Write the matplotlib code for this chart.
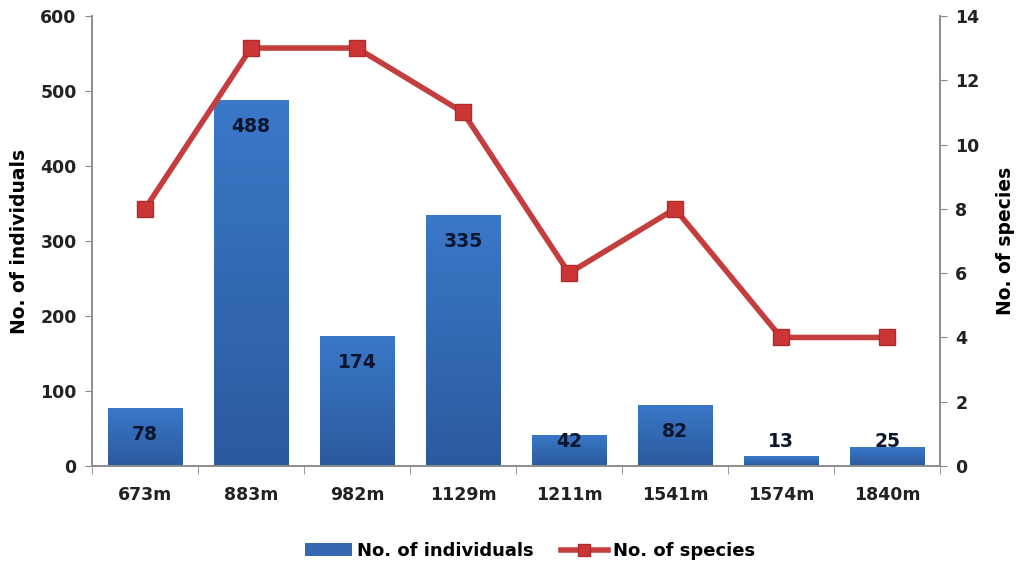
import numpy as np
import matplotlib
matplotlib.use("Agg")
import matplotlib.pyplot as plt
from matplotlib.lines import Line2D
from matplotlib.patches import Patch
from matplotlib.colors import LinearSegmentedColormap

# Data
sites = ["673m", "883m", "982m", "1129m", "1211m", "1541m", "1574m", "1840m"]
individuals = [78, 488, 174, 335, 42, 82, 13, 25]
species = [8, 13, 13, 11, 6, 8, 4, 4]

plt.rcParams["font.family"] = ["DejaVu Sans"]
plt.rcParams["font.weight"] = "bold"

fig = plt.figure(figsize=(10.19, 5.67), dpi=100)
ax = fig.add_axes([0.0903, 0.178, 0.8322, 0.794])
ax2 = ax.twinx()

x = np.arange(len(sites))
bar_w = 0.7
bars = ax.bar(x, individuals, width=bar_w, color="#3468B2", zorder=2)

# vertical gradient fill for each bar
grad = LinearSegmentedColormap.from_list("g", ["#2B5A9E", "#3A78C8"])
for b in bars:
    bx, by = b.get_x(), b.get_y()
    bw, bh = b.get_width(), b.get_height()
    im = ax.imshow(np.linspace(0, 1, 100).reshape(-1, 1), cmap=grad,
                   extent=[bx, bx + bw, by, by + bh], origin="lower",
                   aspect="auto", zorder=2.5)
    im.set_clip_path(b)

for xi, v in zip(x, individuals):
    ax.text(xi, max(v - 36, 33), str(v), ha="center", va="center",
            fontsize=13.5, fontweight="bold", color="#0B1530", zorder=4)

ax2.plot(x, species, color="#C43E3E", lw=4, marker="s", markersize=12,
         markerfacecolor="#CC3535", markeredgecolor="#B02C2C", zorder=3)

ax.set_xlim(-0.5, len(sites) - 0.5)
ax.set_ylim(0, 600)
ax2.set_ylim(0, 14)
ax.set_yticks(range(0, 601, 100))
ax2.set_yticks(range(0, 15, 2))
ax.set_xticks(x)
ax.set_xticklabels(sites)
ax.set_xticks(np.arange(-0.5, len(sites), 1), minor=True)
ax.tick_params(axis="x", which="major", length=0, pad=14, labelsize=12.5)
ax.tick_params(axis="x", which="minor", length=6, color="#888888", direction="out")
ax.tick_params(axis="y", length=5, color="#888888", labelsize=12.5, pad=6)
ax2.tick_params(axis="y", length=5, color="#888888", labelsize=12.5, pad=6)

for a in (ax, ax2):
    a.spines["top"].set_visible(False)
    for s in ("left", "right", "bottom"):
        a.spines[s].set_color("#8C8C8C")
        a.spines[s].set_linewidth(1.2)
    for lbl in a.get_xticklabels() + a.get_yticklabels():
        lbl.set_fontweight("bold")
        lbl.set_color("#222222")

ax.set_ylabel("No. of individuals", fontsize=13.5, fontweight="bold", labelpad=8)
ax2.set_ylabel("No. of species", fontsize=13.5, fontweight="bold", labelpad=12)

handles = [
    Patch(facecolor="#3468B2", edgecolor="none"),
    Line2D([0], [0], color="#C43E3E", lw=4, marker="s", markersize=9,
           markerfacecolor="#CC3535", markeredgecolor="#B02C2C"),
]
fig.legend(handles, ["No. of individuals", "No. of species"], loc="center",
           bbox_to_anchor=(0.52, 0.028), ncol=2, frameon=False,
           handlelength=2.6, columnspacing=1.5, handletextpad=0.3,
           prop={"weight": "bold", "size": 13})

fig.savefig("out.png", dpi=100)
